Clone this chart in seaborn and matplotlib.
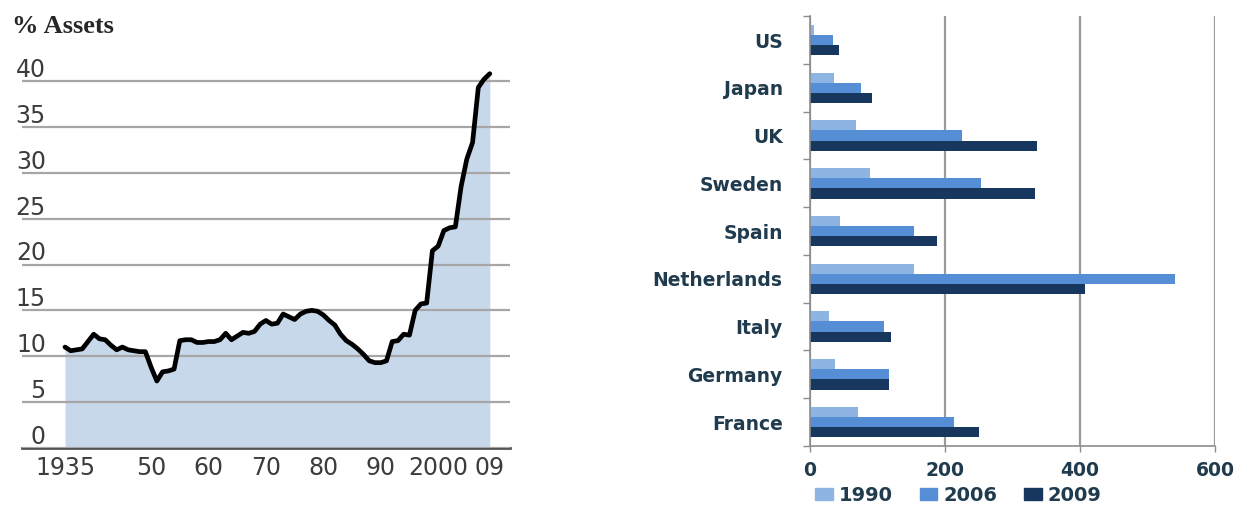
import numpy as np
import pandas as pd
import matplotlib.pyplot as plt
import seaborn as sns
from matplotlib.patches import Patch
from matplotlib.transforms import blended_transform_factory

plt.switch_backend('Agg')

# --- left panel: % assets over time
years = list(range(1935, 2010))
assets_pct = [11.0, 10.6, 10.7, 10.8, 11.6, 12.4, 11.9, 11.8, 11.2, 10.7,
              11.0, 10.7, 10.6, 10.5, 10.5, 8.8, 7.3, 8.3, 8.4, 8.6,
              11.7, 11.8, 11.8, 11.5, 11.5, 11.6, 11.6, 11.8, 12.5, 11.8,
              12.2, 12.6, 12.5, 12.7, 13.5, 13.9, 13.5, 13.6, 14.6, 14.3,
              14.0, 14.6, 14.9, 15.0, 14.9, 14.5, 13.9, 13.4, 12.4, 11.7,
              11.3, 10.8, 10.2, 9.5, 9.3, 9.3, 9.5, 11.6, 11.7, 12.4,
              12.3, 15.0, 15.7, 15.8, 21.5, 22.0, 23.7, 24.0, 24.1, 28.5,
              31.5, 33.3, 39.3, 40.2, 40.8]
year_ticks = [1935, 1950, 1960, 1970, 1980, 1990, 2000, 2009]
year_labels = ['1935', '50', '60', '70', '80', '90', '2000', '09']
pct_ticks = [0, 5, 10, 15, 20, 25, 30, 35, 40]

# --- right panel: by country
countries = ['US', 'Japan', 'UK', 'Sweden', 'Spain', 'Netherlands',
             'Italy', 'Germany', 'France']
series_years = ['1990', '2006', '2009']
vals_1990 = [7, 36, 68, 89, 45, 155, 28, 38, 71]
vals_2006 = [34, 76, 226, 254, 155, 540, 110, 117, 213]
vals_2009 = [43, 92, 336, 334, 189, 407, 121, 117, 250]
bar_colors = ['#8db4e2', '#558ed5', '#17375e']

sns.set_style('white')

fig = plt.figure(figsize=(12.4, 5.05), dpi=100)
ax1 = fig.add_axes([0.0177, 0.1129, 0.3935, 0.763])
ax2 = fig.add_axes([0.653, 0.117, 0.327, 0.851])

# left chart
df_line = pd.DataFrame({'year': years, 'pct': assets_pct})
ax1.fill_between(df_line['year'], 0, df_line['pct'], color='#c8d8eb', lw=0, zorder=1)
sns.lineplot(data=df_line, x='year', y='pct', ax=ax1, color='black', lw=3.4,
             zorder=3, solid_joinstyle='round')
ax1.set_xlim(1927.5, 2012.5)
ax1.set_ylim(0, 42)
ax1.set_axisbelow(False)
ax1.set_yticks(pct_ticks)
ax1.grid(axis='y', color='#a6a6a6', lw=1.6)
ax1.grid(axis='x', visible=False)
ax1.tick_params(axis='y', length=0, labelleft=False)
ax1.set_xticks(year_ticks)
ax1.set_xticklabels(year_labels)
tick_font = ['Liberation Sans Narrow', 'DejaVu Sans Condensed', 'DejaVu Sans']
ax1.tick_params(axis='x', direction='in', length=7, width=1.2, color='#999999',
                labelsize=17, labelcolor='#3c3c3c', pad=6)
for lab in ax1.get_xticklabels():
    lab.set_family(tick_font)
for s in ['top', 'right', 'left']:
    ax1.spines[s].set_visible(False)
ax1.spines['bottom'].set_color('#555555')
ax1.spines['bottom'].set_linewidth(2)
ax1.set_xlabel('')
ax1.set_ylabel('')

trans = blended_transform_factory(ax1.transAxes, ax1.transData)
for v in pct_ticks:
    ax1.text(0.049, v + 0.45, str(v), transform=trans, ha='right', va='baseline',
             fontsize=17, color='#3c3c3c', family=tick_font)

fig.text(12 / 1240, 1 - 33 / 505, '% Assets', family=['Liberation Serif', 'DejaVu Serif'],
         weight='bold', fontsize=19, va='baseline', ha='left')

# right chart
df_bar = pd.DataFrame({
    'country': countries * 3,
    'year': [series_years[0]] * 9 + [series_years[1]] * 9 + [series_years[2]] * 9,
    'value': vals_1990 + vals_2006 + vals_2009,
})
sns.barplot(data=df_bar, x='value', y='country', hue='year', orient='h',
            order=countries, hue_order=series_years, palette=bar_colors,
            width=0.64, saturation=1, linewidth=0, legend=False, ax=ax2)
ax2.set_xlim(0, 600)
ax2.set_ylim(8.5, -0.5)
ax2.set_xticks([0, 200, 400, 600])
ax2.set_axisbelow(True)
ax2.grid(axis='x', color='#9a9a9a', lw=1.6)
ax2.grid(axis='y', visible=False)
ax2.set_yticks(np.arange(-0.5, 9, 1), minor=True)
label_color = '#1f3b4d'
ax2.tick_params(axis='y', which='major', length=0, pad=19.5, labelsize=13.5,
                labelcolor=label_color)
ax2.tick_params(axis='y', which='minor', length=5, width=1, color='#8c8c8c',
                direction='out', left=True)
ax2.tick_params(axis='x', length=4, width=1, color='#8c8c8c', direction='out',
                bottom=True, labelsize=13.5, labelcolor=label_color, pad=7)
for lab in ax2.get_yticklabels() + ax2.get_xticklabels():
    lab.set_fontweight('bold')
for s in ['top', 'right']:
    ax2.spines[s].set_visible(False)
for s in ['left', 'bottom']:
    ax2.spines[s].set_color('#8c8c8c')
    ax2.spines[s].set_linewidth(1.2)
ax2.set_xlabel('')
ax2.set_ylabel('')

handles = [Patch(color=c, label=y) for c, y in zip(bar_colors, series_years)]
fig.legend(handles=handles, loc='center', bbox_to_anchor=(0.773, 0.019), ncol=3,
           frameon=False, handlelength=0.9, handleheight=0.5, handletextpad=0.3,
           columnspacing=1.4, prop={'weight': 'bold', 'size': 14},
           labelcolor=label_color, borderpad=0.2)

fig.savefig('out.png', dpi=100)
